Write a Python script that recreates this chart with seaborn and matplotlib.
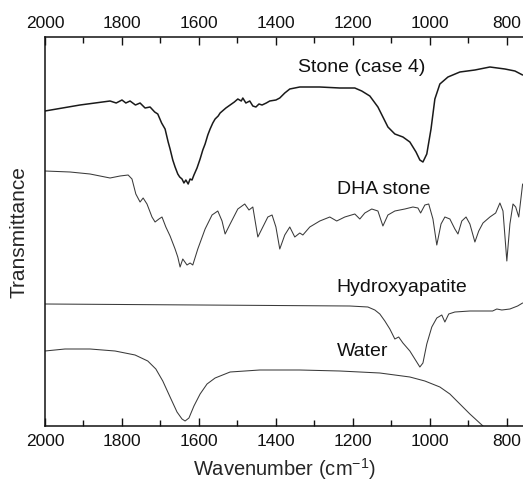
import numpy as np
import pandas as pd
import seaborn as sns
import matplotlib
matplotlib.use("Agg")
import matplotlib.pyplot as plt
from matplotlib.ticker import MultipleLocator

# ---- data (wavenumber in cm^-1, transmittance in arbitrary offset units) ----
stone_wn = [2000, 1909, 1831, 1815, 1800, 1790, 1779, 1765, 1753, 1740, 1727, 1715, 1707, 1697, 1688,
            1680, 1675, 1668, 1662, 1655, 1650, 1644, 1639, 1634, 1628, 1623, 1618, 1613, 1605, 1597,
            1590, 1584, 1577, 1571, 1564, 1558, 1550, 1545, 1530, 1519, 1508, 1499, 1490, 1486, 1478,
            1468, 1460, 1452, 1444, 1436, 1425, 1416, 1400, 1390, 1377, 1364, 1338, 1286, 1234, 1195,
            1177, 1156, 1135, 1122, 1109, 1091, 1070, 1052, 1036, 1026, 1018, 1008, 997, 987, 974,
            953, 922, 883, 844, 805, 779, 759]
stone_t = [315, 321, 325, 323, 326, 323, 325, 321, 323, 318, 319, 314, 312, 303, 297,
           284, 277, 266, 259, 252, 249, 247, 243, 246, 242, 247, 246, 251, 258, 267,
           276, 282, 291, 297, 303, 307, 310, 313, 318, 321, 324, 327, 325, 328, 323,
           325, 320, 319, 322, 321, 323, 325, 326, 328, 333, 337, 339, 339, 338, 338,
           335, 330, 319, 309, 299, 292, 289, 284, 274, 266, 264, 272, 297, 327, 342,
           349, 354, 356, 359, 357, 355, 351]

dha_wn = [2000, 1935, 1883, 1857, 1831, 1805, 1784, 1774, 1764, 1753, 1745, 1735, 1722, 1714, 1704,
          1696, 1686, 1675, 1662, 1655, 1649, 1642, 1631, 1623, 1616, 1603, 1584, 1566, 1551, 1540,
          1532, 1519, 1499, 1481, 1470, 1460, 1447, 1434, 1421, 1410, 1400, 1390, 1377, 1364, 1351,
          1338, 1330, 1312, 1286, 1260, 1242, 1221, 1195, 1182, 1169, 1151, 1135, 1122, 1109, 1091,
          1065, 1044, 1031, 1024, 1013, 1003, 992, 982, 971, 961, 948, 935, 927, 917, 906,
          896, 883, 873, 862, 844, 829, 818, 810, 800, 792, 784, 777, 769, 759]
dha_t = [255, 254, 252, 250, 248, 250, 251, 247, 232, 224, 228, 222, 209, 204, 207,
         209, 199, 190, 177, 169, 159, 167, 161, 163, 161, 177, 197, 211, 215, 205,
         192, 202, 217, 222, 216, 219, 189, 199, 209, 211, 199, 177, 191, 199, 189,
         193, 191, 199, 205, 209, 205, 209, 212, 207, 213, 217, 215, 200, 211, 215,
         217, 219, 218, 213, 221, 222, 207, 181, 202, 209, 207, 197, 192, 205, 209,
         202, 184, 195, 203, 209, 213, 223, 215, 165, 202, 222, 219, 209, 242]

hap_wn = [2000, 1597, 1208, 1161, 1143, 1130, 1117, 1104, 1091, 1081, 1070, 1052, 1039, 1026, 1018,
          1008, 995, 982, 969, 961, 951, 935, 896, 837, 826, 813, 792, 772, 759]
hap_t = [122, 121, 120, 119, 116, 112, 105, 97, 87, 89, 83, 75, 67, 59, 63,
         82, 99, 108, 111, 104, 112, 114, 115, 115, 117, 116, 117, 120, 123]

water_wn = [2000, 1948, 1883, 1818, 1766, 1733, 1712, 1694, 1675, 1657, 1644, 1636, 1626, 1613, 1597,
            1579, 1558, 1519, 1442, 1338, 1234, 1130, 1052, 1013, 974, 948, 922, 896, 862, 831,
            805, 759]
water_t = [75, 77, 77, 75, 71, 65, 57, 45, 29, 14, 7, 5, 8, 20, 32,
           42, 48, 54, 56, 56, 55, 53, 49, 45, 39, 32, 22, 12, 0, -13,
           -23, -38]

labels = ["Stone (case 4)", "DHA stone", "Hydroxyapatite", "Water"]
label_pos = [(1343, 360), (1242, 237), (1242, 139), (1242, 75)]
tick_values = [2000, 1800, 1600, 1400, 1200, 1000, 800]

# ---- plot ----
sns.set_style("ticks")
plt.rcParams['font.family'] = ['Liberation Sans', 'DejaVu Sans']
plt.rcParams['mathtext.default'] = 'regular'

fig = plt.figure(figsize=(5.23, 4.85), dpi=100)
ax = fig.add_axes([45/523, 1-427/485, 1-45/523, (427-38)/485])

series = [
    (stone_wn, stone_t, "#1a1a1a", 1.1),
    (dha_wn, dha_t, "#3a3a3a", 0.75),
    (hap_wn, hap_t, "#3a3a3a", 0.75),
    (water_wn, water_t, "#3a3a3a", 0.75),
]
for wn, t, c, lw in series:
    df = pd.DataFrame({"wn": wn, "t": t})
    sns.lineplot(data=df, x="wn", y="t", ax=ax, color=c, linewidth=lw,
                 sort=False, estimator=None)

for lab, (x, y) in zip(labels, label_pos):
    ax.text(x, y, lab, ha="left", va="center", fontsize=14, color="#111")

ax.set_xlim(2000, 758)
ax.set_ylim(0, 389)
ax.set_xticks(tick_values)
ax.xaxis.set_minor_locator(MultipleLocator(100))
ax.set_yticks([])
ax.tick_params(axis="x", which="both", direction="in", top=True, bottom=True,
               labeltop=True, labelbottom=True, labelsize=12.5, colors="#111", pad=5)
ax.tick_params(axis="x", which="major", length=6, width=1)
ax.tick_params(axis="x", which="minor", length=4, width=1)
ax.spines["right"].set_visible(False)
for s in ["left", "top", "bottom"]:
    ax.spines[s].set_linewidth(1.1)
    ax.spines[s].set_color("#111")

ax.set_xlabel("Wavenumber (cm$^{-1}$)", fontsize=14.5, labelpad=5)
ax.set_ylabel("Transmittance", fontsize=15, labelpad=12)

fig.savefig("out.png", dpi=100)
